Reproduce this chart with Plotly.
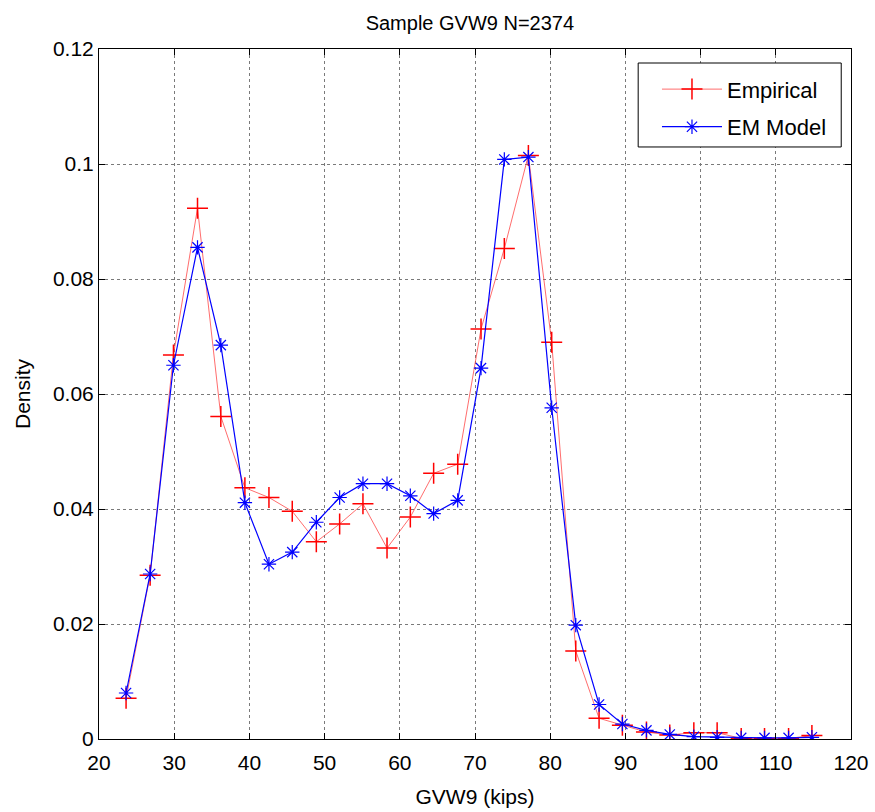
import plotly.graph_objects as go

# Bin centres (kips)
gvw9 = [23.6, 26.8, 29.9, 33.1, 36.2, 39.4, 42.6, 45.7, 48.9, 52.0,
        55.1, 58.3, 61.4, 64.5, 67.7, 70.8, 73.9, 77.1, 80.2, 83.4,
        86.5, 89.6, 92.8, 95.9, 99.1, 102.2, 105.4, 108.5, 111.7, 114.8]

empirical = [0.0071, 0.0285, 0.0668, 0.0923, 0.0561, 0.0437, 0.0420, 0.0396, 0.0343, 0.0374,
             0.0409, 0.0332, 0.0386, 0.0462, 0.0478, 0.0713, 0.0853, 0.1015, 0.0690, 0.0153,
             0.0036, 0.0024, 0.0012, 0.0007, 0.0011, 0.0011, 0.0001, 0.0001, 0.0001, 0.0006]

em_model = [0.0080, 0.0287, 0.0650, 0.0855, 0.0685, 0.0411, 0.0304, 0.0325, 0.0377, 0.0420,
            0.0444, 0.0444, 0.0423, 0.0392, 0.0415, 0.0645, 0.1008, 0.1012, 0.0576, 0.0198,
            0.0060, 0.0026, 0.0015, 0.0008, 0.0004, 0.0003, 0.0002, 0.0002, 0.0002, 0.0003]

x_ticks = [20, 30, 40, 50, 60, 70, 80, 90, 100, 110, 120]
y_ticks = [0, 0.02, 0.04, 0.06, 0.08, 0.1, 0.12]
y_tick_labels = ["0", "0.02", "0.04", "0.06", "0.08", "0.1", "0.12"]

FONT = "Liberation Sans, Arial, Helvetica, sans-serif"

fig = go.Figure()
fig.add_trace(go.Scatter(
    x=gvw9, y=empirical, name="Empirical", mode="lines+markers",
    line=dict(color="rgba(255,60,60,0.75)", width=1),
    marker=dict(symbol="cross-thin", size=15, color="red",
                line=dict(color="red", width=1.5)),
    legendgroup="a",
))
fig.add_trace(go.Scatter(
    x=gvw9, y=em_model, name="EM Model", mode="lines+markers",
    line=dict(color="blue", width=1.2),
    marker=dict(symbol="asterisk-open", size=12, color="blue",
                line=dict(color="blue", width=1.2)),
    legendgroup="b",
))

axis_common = dict(
    showline=True, linecolor="black", linewidth=1, mirror="ticks",
    ticks="inside", ticklen=6, tickcolor="black", tickwidth=1,
    showgrid=True, gridcolor="#7a7a7a", gridwidth=1, griddash="dot",
    zeroline=False, automargin=False,
    tickfont=dict(family=FONT, size=21, color="black"),
)

fig.update_xaxes(range=[20, 120], tickvals=x_ticks, ticklabelstandoff=5,
                 title=dict(text="GVW9 (kips)", font=dict(family=FONT, size=21, color="black"), standoff=16),
                 **axis_common)
fig.update_yaxes(range=[0, 0.12], tickvals=y_ticks, ticktext=y_tick_labels,
                 title=dict(text="Density", font=dict(family=FONT, size=21, color="black"), standoff=16),
                 **axis_common)

# legend box (MATLAB style)
fig.add_shape(type="rect", xref="paper", yref="paper",
              x0=0.717, x1=0.987, y0=0.858, y1=0.9797,
              line=dict(color="black", width=1), fillcolor="white", layer="above")

fig.update_layout(
    width=875, height=812,
    margin=dict(l=99, r=24, t=49, b=73),
    paper_bgcolor="white", plot_bgcolor="white",
    title=dict(text="Sample GVW9 N=2374", x=0.537, xanchor="center",
               y=1 - 23 / 812, yanchor="middle", yref="container",
               font=dict(family=FONT, size=20, color="black")),
    legend=dict(x=0.742, y=0.972, xanchor="left", yanchor="top",
                bgcolor="rgba(0,0,0,0)", borderwidth=0,
                font=dict(family=FONT, size=22, color="black"),
                tracegroupgap=6, traceorder="grouped", itemwidth=60),
    showlegend=True,
)

fig.write_html("out.html")
